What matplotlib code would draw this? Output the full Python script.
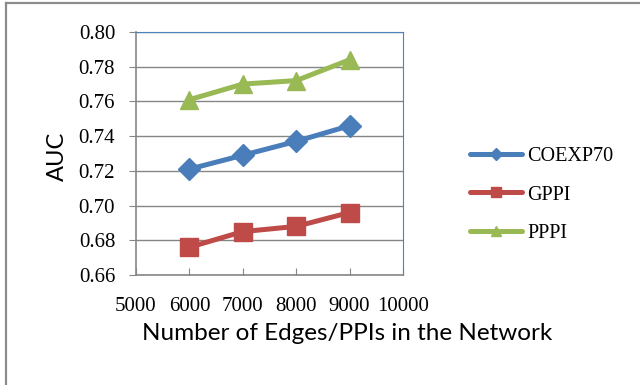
import matplotlib
matplotlib.use("Agg")
import matplotlib.pyplot as plt
from matplotlib.lines import Line2D

edges = [6000, 7000, 8000, 9000]
coexp70 = [0.721, 0.729, 0.737, 0.746]
gppi = [0.676, 0.685, 0.688, 0.696]
pppi = [0.761, 0.770, 0.772, 0.784]
xticks = [5000, 6000, 7000, 8000, 9000, 10000]
yticks = [0.66, 0.68, 0.70, 0.72, 0.74, 0.76, 0.78, 0.80]

W, H = 640, 385
fig = plt.figure(figsize=(6.4, 3.85), dpi=100)
# outer chart border (top and left visible)
fig.lines.append(Line2D([6 / W, 1.0], [1 - 2.5 / H, 1 - 2.5 / H], transform=fig.transFigure,
                        color="#8C8C8C", lw=1.6))
fig.lines.append(Line2D([6 / W, 6 / W], [0, 1 - 2.5 / H], transform=fig.transFigure,
                        color="#8C8C8C", lw=1.6))

ax = fig.add_axes([136 / W, 1 - 275 / H, 267 / W, 243 / H])

series = [("COEXP70", coexp70, "#4A7EBB", "D", 11),
          ("GPPI", gppi, "#BE4B48", "s", 13.5),
          ("PPPI", pppi, "#98B954", "^", 13.5)]
for name, vals, col, mk, ms in series:
    ax.plot(edges, vals, color=col, lw=3.6, marker=mk, ms=ms, label=name,
            solid_capstyle="round", zorder=3)

ax.set_xlim(5000, 10000)
ax.set_ylim(0.66, 0.80)
ax.set_xticks(xticks)
ax.set_yticks(yticks)
ax.set_yticklabels([f"{v:.2f}" for v in yticks])
ax.tick_params(axis="y", labelsize=15, length=5, color="#868686", direction="out", pad=10)
ax.tick_params(axis="x", labelsize=15, length=5, color="#868686", direction="in", pad=16)
for lab in ax.get_xticklabels() + ax.get_yticklabels():
    lab.set_family("Liberation Serif")
ax.grid(axis="y", color="#868686", lw=1)
ax.set_axisbelow(True)
for s in ["top", "right"]:
    ax.spines[s].set_color("#4F81BD")
for s in ["left", "bottom"]:
    ax.spines[s].set_color("#868686")
    ax.spines[s].set_linewidth(1.2)

ax.set_ylabel("AUC", fontsize=17, family="Lato", va="center")
ax.yaxis.set_label_coords((57 - 136) / 267, 0.49)
ax.set_xlabel("Number of Edges/PPIs in the Network", fontsize=17.5, family="Lato", va="center")
ax.xaxis.set_label_coords(0.5 * (143 + 552) / 267 - 136 / 267, (275 - 334) / 243)

leg = fig.legend(*ax.get_legend_handles_labels(), loc="center left",
                 bbox_to_anchor=(470 / W, 1 - 195 / H), bbox_transform=fig.transFigure,
                 frameon=False, borderpad=0, borderaxespad=0,
                 prop={"family": "Liberation Serif", "size": 14.5}, handlelength=2.6,
                 labelspacing=0.95, markerscale=0.55, handletextpad=0.25)

fig.savefig("out.png", dpi=100)
